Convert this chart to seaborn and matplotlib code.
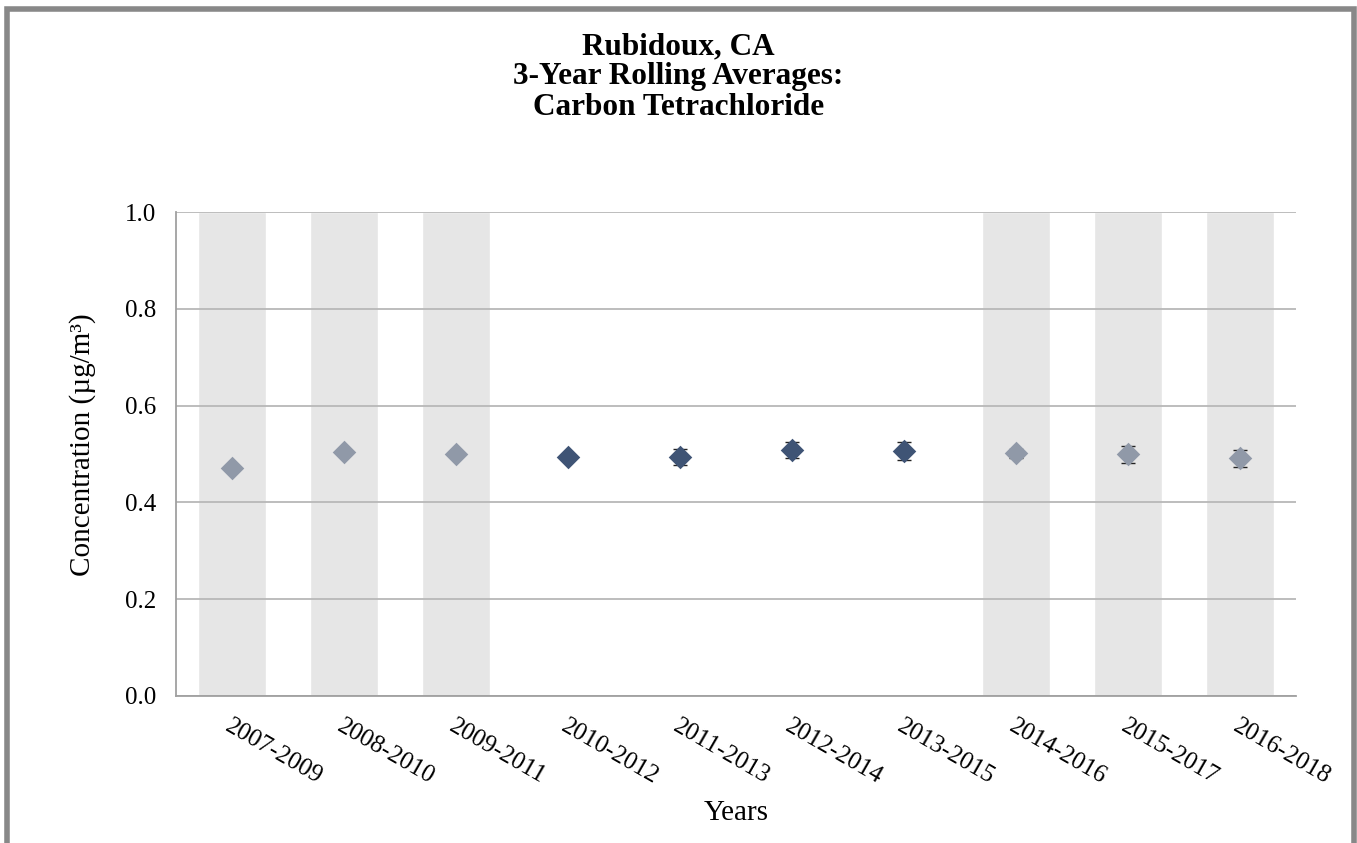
import matplotlib.pyplot as plt
import numpy as np
import pandas as pd
import seaborn as sns
from matplotlib.patches import Rectangle


periods = ['2007-2009', '2008-2010', '2009-2011', '2010-2012', '2011-2013',
           '2012-2014', '2013-2015', '2014-2016', '2015-2017', '2016-2018']
averages = [0.471, 0.504, 0.499, 0.493, 0.494, 0.508, 0.506, 0.501, 0.499, 0.491]
errors = [0.0, 0.0, 0.0, 0.006, 0.017, 0.017, 0.018, 0.010, 0.017, 0.017]
incomplete = [True, True, True, False, False, False, False, True, True, True]

df = pd.DataFrame({
    'period': periods,
    'avg': averages,
    'err': errors,
    'incomplete': incomplete,
})
df['shade'] = np.where(df['incomplete'], 1.0, 0.0)

sns.set_style('white')
plt.rcParams['font.family'] = ['Liberation Serif', 'DejaVu Serif']
plt.rcParams['text.color'] = 'black'
plt.rcParams['axes.labelcolor'] = 'black'
plt.rcParams['xtick.labelcolor'] = 'black'
plt.rcParams['ytick.labelcolor'] = 'black'

fig, ax = plt.subplots(figsize=(13.57, 8.43), dpi=100)
fig.subplots_adjust(left=0.1297, right=0.9550, top=0.7485, bottom=0.1745)

# grey columns behind the incomplete periods
sns.barplot(data=df, x='period', y='shade', color='#e6e6e6', width=0.6,
            saturation=1, ax=ax, zorder=1)

x = np.arange(len(periods))
ax.errorbar(x, df['avg'], yerr=df['err'], fmt='none', ecolor='#222222',
            elinewidth=1, capsize=5, capthick=1, zorder=3)

sns.stripplot(data=df, x='period', y='avg', hue='incomplete',
              palette={True: '#9099a8', False: '#3f5475'}, marker='D', size=12,
              jitter=False, linewidth=0, legend=False, ax=ax, zorder=4)

ax.set_ylim(0, 1.0)
ax.set_xlim(-0.5, len(periods) - 0.5)
ax.set_yticks(np.arange(0, 1.01, 0.2))
ax.set_yticklabels([f'{v:.1f}' for v in np.arange(0, 1.01, 0.2)], fontsize=18)
ax.yaxis.grid(True, color='#b8b8b8', linewidth=1.3)
ax.set_axisbelow('line')

# ticks at category boundaries, labels at centres
ax.set_xticks(np.arange(len(periods) + 1) - 0.5)
ax.set_xticklabels([])
ax.tick_params(axis='x', which='major', direction='out', length=6,
               color='#a0a0a0', width=1.3)
ax.tick_params(axis='y', which='major', direction='out', length=6,
               color='#a0a0a0', width=1.3, pad=8)
ax.set_xticks(x, minor=True)
ax.set_xticklabels(periods, minor=True, rotation=-30, ha='left', va='top',
                   rotation_mode='anchor', fontsize=18)
ax.tick_params(axis='x', which='minor', length=0, pad=14)

for side in ['top', 'right']:
    ax.spines[side].set_visible(False)
for side in ['left', 'bottom']:
    ax.spines[side].set_color('#a0a0a0')
    ax.spines[side].set_linewidth(1.3)

ax.set_xlabel('Years', fontsize=21, labelpad=8)
ax.set_ylabel('Concentration (µg/m³)', fontsize=21)
ax.yaxis.set_label_coords(-0.071, 0.52)

fig.suptitle('Rubidoux, CA\n3-Year Rolling Averages:\nCarbon Tetrachloride',
             fontsize=22.5, fontweight='bold', y=0.962, linespacing=1.06)

fig.patches.append(Rectangle((0.0048, -0.02), 0.9930, 1.0095,
                             transform=fig.transFigure, fill=False,
                             edgecolor='#888888', linewidth=4))

fig.savefig('out.png', dpi=100)
